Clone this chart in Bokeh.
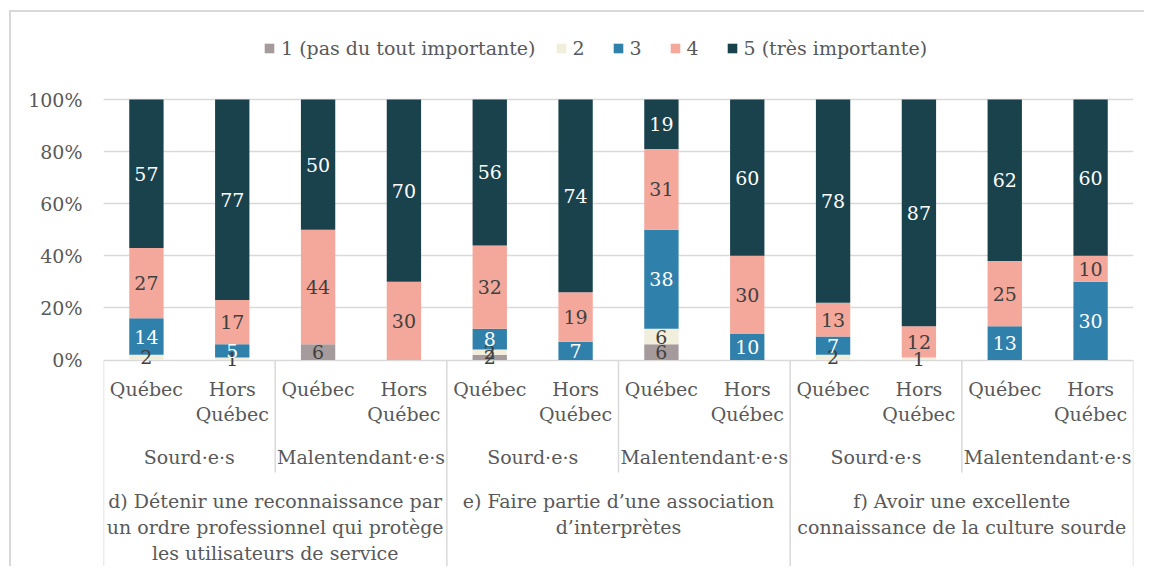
from bokeh.plotting import figure
from bokeh.models import ColumnDataSource, Range1d, FixedTicker, PrintfTickFormatter
from bokeh.core.properties import value
from bokeh.embed import file_html
from bokeh.resources import INLINE

# ---------------- data ----------------
groups = [
    "d) Détenir une reconnaissance par\nun ordre professionnel qui protège\nles utilisateurs de service",
    "e) Faire partie d’une association\nd’interprètes",
    "f) Avoir une excellente\nconnaissance de la culture sourde",
]
subgroups = ["Sourd·e·s", "Malentendant·e·s"]
regions = ["Québec", "Hors\nQuébec"]

series = ["1 (pas du tout importante)", "2", "3", "4", "5 (très importante)"]
v1 = [0, 0, 6, 0, 2, 0, 6, 0, 0, 0, 0, 0]
v2 = [2, 1, 0, 0, 2, 0, 6, 0, 2, 1, 0, 0]
v3 = [14, 5, 0, 0, 8, 7, 38, 10, 7, 0, 13, 30]
v4 = [27, 17, 44, 30, 32, 19, 31, 30, 13, 12, 25, 10]
v5 = [57, 77, 50, 70, 56, 74, 19, 60, 78, 87, 62, 60]
values = [v1, v2, v3, v4, v5]

y_ticks = [0, 20, 40, 60, 80, 100]

# ---------------- style ----------------
colors = ["#A69B9C", "#F1EEDC", "#2F80AB", "#F3A89B", "#1A424D"]
label_colors = ["#404040", "#404040", "#FFFFFF", "#404040", "#FFFFFF"]
FONT = "DejaVu Serif"
FS = "19px"
GREY_TXT = "#595959"
LINE = "#D9D9D9"

# page-pixel -> data conversion (layout only)
BASE_PX = 359.5
PX_PER = 2.605
TOP_PX, BOT_PX = 20, 568


def ypx(py):
    return (BASE_PX - py) / PX_PER


n_reg, n_sub, n_grp = len(regions), len(subgroups), len(groups)
n = n_reg * n_sub * n_grp
xs = [i + 0.5 for i in range(n)]

p = figure(
    width=1135, height=556,
    x_range=Range1d(0, n), y_range=Range1d(ypx(BOT_PX), ypx(TOP_PX)),
    x_axis_type=None, output_backend="svg", toolbar_location=None,
    min_border_left=92, min_border_right=13, min_border_top=8, min_border_bottom=0,
)
p.styles = {"margin-left": "9px", "margin-top": "10px",
            "border-top": "2px solid #D9D9D9", "border-left": "2px solid #D9D9D9"}
p.outline_line_color = None
p.background_fill_color = "white"
p.border_fill_color = "white"

keys = ["s%d" % (i + 1) for i in range(len(series))]
src = ColumnDataSource(dict(x=xs, **{k: v for k, v in zip(keys, values)}))
p.vbar_stack(keys, x="x", width=0.4, color=colors, line_color=None,
             source=src, legend_label=series)

# y axis
ax = p.yaxis[0]
ax.ticker = FixedTicker(ticks=y_ticks)
ax.formatter = PrintfTickFormatter(format="%d%%")
ax.axis_line_color = None
ax.major_tick_line_color = None
ax.minor_tick_line_color = None
ax.major_tick_out = 0
ax.major_label_standoff = 21
ax.major_label_text_font = FONT
ax.major_label_text_font_size = FS
ax.major_label_text_color = GREY_TXT

p.ygrid[0].ticker = FixedTicker(ticks=y_ticks)
p.ygrid[0].grid_line_color = LINE
p.ygrid[0].grid_line_width = 1.5
p.xgrid.visible = False

# data labels
lx, ly, lt, lc = [], [], [], []
for i in range(n):
    bottom = 0
    for s, vals in enumerate(values):
        v = vals[i]
        if v > 0:
            lx.append(xs[i])
            ly.append(bottom + v / 2)
            lt.append(str(v))
            lc.append(label_colors[s])
        bottom += v
p.text(x=lx, y=ly, text=lt, text_color=lc, text_align="center",
       text_baseline="middle", text_font=value(FONT), text_font_size=FS)

# category axis (drawn in data space below 0)
reg_x = xs
reg_t = [regions[i % n_reg] for i in range(n)]
p.text(x=reg_x, y=[ypx(377)] * n, text=reg_t, text_color=GREY_TXT,
       text_align="center", text_baseline="top", text_font=value(FONT),
       text_font_size=FS, text_line_height=1.15)

sub_x = [j * n_reg + n_reg / 2 for j in range(n_sub * n_grp)]
sub_t = [subgroups[j % n_sub] for j in range(n_sub * n_grp)]
p.text(x=sub_x, y=[ypx(456)] * len(sub_x), text=sub_t, text_color=GREY_TXT,
       text_align="center", text_baseline="middle", text_font=value(FONT),
       text_font_size=FS)

grp_x = [g * n_reg * n_sub + n_reg * n_sub / 2 for g in range(n_grp)]
p.text(x=grp_x, y=[ypx(489)] * n_grp, text=groups, text_color=GREY_TXT,
       text_align="center", text_baseline="top", text_font=value(FONT),
       text_font_size=FS, text_line_height=1.2)

# separators
sx, sy1 = [], []
for b in range(0, n + 1, n_reg):
    sx.append(b)
    sy1.append(ypx(BOT_PX) if b % (n_reg * n_sub) == 0 else ypx(472))
p.segment(x0=sx, y0=[0] * len(sx), x1=sx, y1=sy1, line_color=LINE, line_width=1.5)

# legend
lg = p.legend[0]
lg.orientation = "horizontal"
lg.location = (160, 508)
lg.glyph_width = 12
lg.glyph_height = 12
lg.label_height = 24
lg.label_standoff = 6
lg.spacing = 19
lg.padding = 5
lg.margin = 0
lg.border_line_color = None
lg.background_fill_alpha = 0
lg.label_text_font = FONT
lg.label_text_font_size = FS
lg.label_text_color = GREY_TXT

open("out.html", "w").write(file_html(p, INLINE))
